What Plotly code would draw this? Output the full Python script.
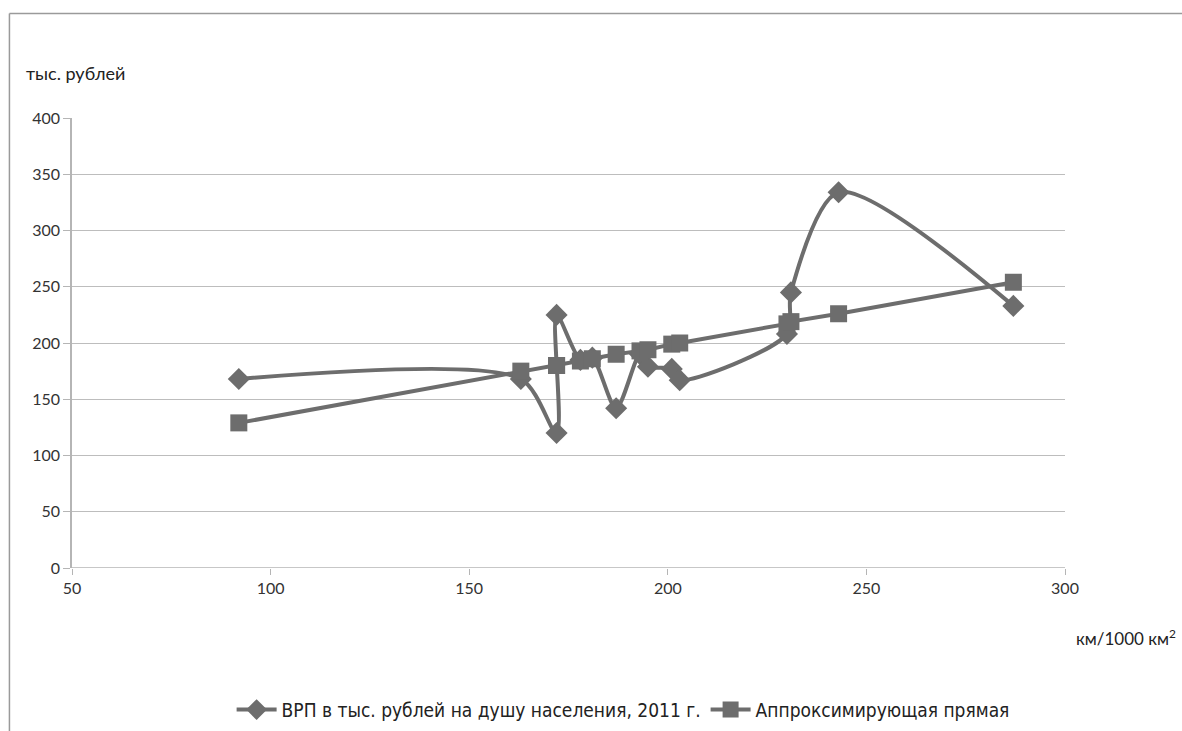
import plotly.graph_objects as go

x_vals = [92, 163, 172, 172, 178, 181, 187, 193, 195, 201, 203, 230, 231, 243, 287]
grp_vals = [168, 168, 120, 225, 185, 187, 142, 190, 179, 177, 167, 208, 245, 334, 233]
fit_vals = [129, 175, 180, 180, 184, 186, 190, 193, 194, 199, 200, 217, 219, 226, 254]

x_ticks = [50, 100, 150, 200, 250, 300]
y_ticks = [0, 50, 100, 150, 200, 250, 300, 350, 400]

series1_name = "ВРП в тыс. рублей на душу населения, 2011 г."
series2_name = "Аппроксимирующая прямая"

col = "#6d6d6d"
fig = go.Figure()
fig.add_trace(go.Scatter(
    x=x_vals, y=grp_vals, name=series1_name, mode="lines+markers",
    line=dict(color=col, width=4, shape="spline", smoothing=0.8),
    marker=dict(symbol="diamond", size=17, color=col),
))
fig.add_trace(go.Scatter(
    x=x_vals, y=fit_vals, name=series2_name, mode="lines+markers",
    line=dict(color=col, width=4),
    marker=dict(symbol="square", size=17, color=col),
))

tick_font = dict(family="Lato, Open Sans, sans-serif", size=16, color="#333333")
fig.update_layout(
    width=1182, height=731,
    margin=dict(l=72, r=117, t=118, b=163, autoexpand=False),
    paper_bgcolor="white", plot_bgcolor="white",
    showlegend=True,
    legend=dict(orientation="h", x=0.555, xanchor="center", y=-0.315, yanchor="middle",
                font=dict(family="DejaVu Sans Condensed, Roboto Condensed, sans-serif",
                          size=19, color="#222222"),
                itemwidth=40, tracegroupgap=0),
    xaxis=dict(range=[50, 300], tickvals=x_ticks, showgrid=False, zeroline=False,
               showline=False, ticks="outside", ticklen=6, tickcolor="#b5b5b5",
               tickfont=tick_font),
    yaxis=dict(range=[0, 400], tickvals=y_ticks, showgrid=True, gridcolor="#bdbdbd",
               gridwidth=1.3, zeroline=False, showline=True, linecolor="#b5b5b5",
               linewidth=1.5, ticks="outside", ticklen=7, tickcolor="#b5b5b5",
               tickfont=tick_font),
    annotations=[
        dict(text="тыс. рублей", xref="paper", yref="paper", x=-0.048, y=1.1,
             xanchor="left", yanchor="middle", showarrow=False,
             font=dict(family="Lato, Open Sans, sans-serif", size=18, color="#222222")),
        dict(text="км/1000 км<sup>2</sup>", xref="paper", yref="paper", x=1.114, y=-0.155,
             xanchor="right", yanchor="middle", showarrow=False,
             font=dict(family="Lato, Open Sans, sans-serif", size=17, color="#222222")),
    ],
    shapes=[
        dict(type="line", xref="paper", yref="paper", x0=-0.063, x1=1.2, y0=1.232, y1=1.232,
             line=dict(color="#9a9a9a", width=1.5)),
        dict(type="line", xref="paper", yref="paper", x0=-0.063, x1=-0.063, y0=1.232, y1=-0.45,
             line=dict(color="#9a9a9a", width=1.5)),
    ],
)
fig.add_hline(y=0, line=dict(color="#b5b5b5", width=1.5))
fig.write_html("out.html")
